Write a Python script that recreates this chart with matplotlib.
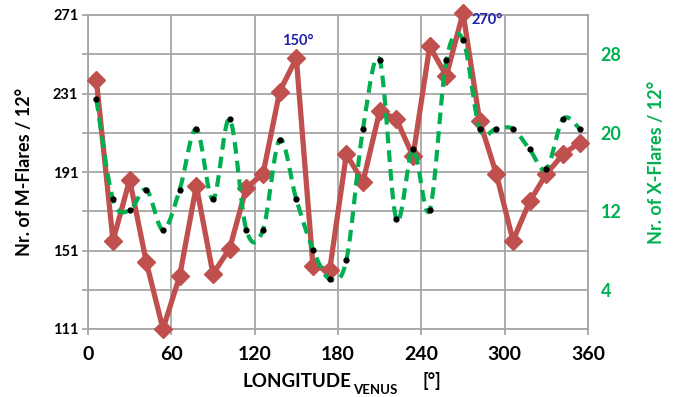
import numpy as np
import matplotlib
matplotlib.use("Agg")
import matplotlib.pyplot as plt

plt.rcParams['font.family'] = ['Lato', 'DejaVu Sans']
plt.rcParams['font.weight'] = 'bold'

# bin centres (12 deg bins)
longitude = [6, 18, 30, 42, 54, 66, 78, 90, 102, 114, 126, 138, 150, 162, 174,
             186, 198, 210, 222, 234, 246, 258, 270, 282, 294, 306, 318, 330, 342, 354]
m_flares = [238, 156, 187, 145, 111, 138, 184, 139, 152, 183, 190, 232, 249, 143, 141,
            200, 186, 222, 218, 199, 255, 240, 272, 217, 190, 156, 176, 190, 200, 206]
x_flares = [23.4, 13.2, 12.1, 14.2, 10.1, 14.2, 20.4, 13.2, 21.4, 10.1, 10.1, 19.3, 13.2, 8.1, 5.1,
            7.0, 20.4, 27.4, 11.2, 18.3, 12.1, 27.4, 29.5, 20.4, 20.4, 20.4, 18.3, 16.3, 21.4, 20.4]

x_ticks = [0, 60, 120, 180, 240, 300, 360]
m_ticks = [111, 151, 191, 231, 271]
m_minor = [131, 171, 211, 251]
x_right_ticks = [4, 12, 20, 28]

RED = '#c0504d'
GREEN = '#00b050'
GRID = '#a6a6a6'
BLUE = '#1f1fa8'


def smooth(xs, ys, n=24):
    """Excel-like smoothed line (Bezier through the points)"""
    pts = np.column_stack([xs, ys]).astype(float)
    p = np.vstack([pts[0], pts, pts[-1]])
    out = []
    t = np.linspace(0, 1, n)[:, None]
    for i in range(1, len(p) - 2):
        p0, p1, p2, p3 = p[i - 1], p[i], p[i + 1], p[i + 2]
        c1 = p1 + (p2 - p0) / 6
        c2 = p2 - (p3 - p1) / 6
        b = (1 - t) ** 3 * p1 + 3 * (1 - t) ** 2 * t * c1 + 3 * (1 - t) * t ** 2 * c2 + t ** 3 * p2
        out.append(b if i == 1 else b[1:])
    return np.vstack(out)


fig = plt.figure(figsize=(6.75, 3.97), dpi=100)
ax = fig.add_axes([88 / 675, 1 - 329 / 397, 500 / 675, 314 / 397])

ax.set_xlim(0, 360)
ax.set_ylim(111, 271)
ax.set_xticks(x_ticks)
ax.set_yticks(m_ticks)
ax.set_yticks(m_minor, minor=True)
ax.grid(True, which='both', color=GRID, lw=1.3)
ax.set_axisbelow(True)
for s in ax.spines.values():
    s.set_color(GRID)
    s.set_linewidth(1.3)
ax.tick_params(axis='x', colors=GRID, length=4, width=1.3, pad=8, labelsize=14, labelcolor='black')
ax.tick_params(axis='y', which='both', colors=GRID, length=4, width=1.3, pad=3, labelsize=10.5,
               labelcolor='black')

ax.plot(longitude, m_flares, color=RED, lw=3.8, marker='D', ms=9.5, mec=RED, mfc=RED,
        solid_joinstyle='round', zorder=3, clip_on=False)

ax.text(151, 258, '150°', color=BLUE, fontsize=10.5, fontweight='bold', ha='center', va='center')
ax.text(276, 268.5, '270°', color=BLUE, fontsize=10.5, fontweight='bold', ha='left', va='center')

ax.set_ylabel('Nr. of M-Flares / 12°', fontsize=13, fontweight='bold')
ax.yaxis.set_label_coords(-0.11, 0.5)

ax2 = ax.twinx()
ax2.set_ylim(0, 32)
ax2.set_yticks(x_right_ticks)
ax2.tick_params(axis='y', length=0, pad=9, labelsize=13, labelcolor=GREEN)
for s in ax2.spines.values():
    s.set_visible(False)
curve = smooth(longitude, x_flares)
ax2.plot(curve[:, 0], curve[:, 1], color=GREEN, lw=3.0, dashes=(2.8, 1.7), zorder=3)
ax2.plot(longitude, x_flares, 'o', color='black', ms=3.5, zorder=4)
ax2.set_ylabel('Nr. of X-Flares / 12°', fontsize=13, fontweight='bold', color=GREEN)
ax2.yaxis.set_label_coords(1.12, 0.53)

# x label with subscript
fig.canvas.draw()
r = fig.canvas.get_renderer()
t1 = fig.text(243 / 675, 1 - 387 / 397, 'LONGITUDE', fontsize=13.5, fontweight='bold', ha='left',
              va='baseline')
bb = t1.get_window_extent(r)
fig.text(bb.x1 / 675 + 0.002, 1 - 394 / 397, 'VENUS', fontsize=9.5, fontweight='bold', ha='left',
         va='baseline')
fig.text(423 / 675, 1 - 387 / 397, '[°]', fontsize=13, fontweight='bold', ha='left', va='baseline')

fig.savefig('out.png', dpi=100)
